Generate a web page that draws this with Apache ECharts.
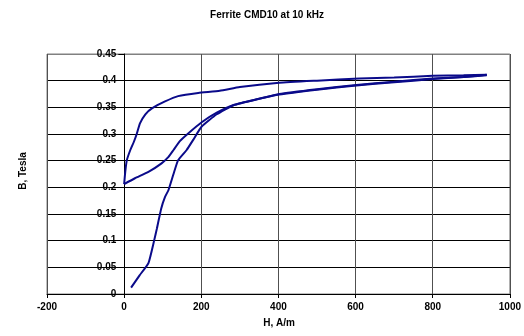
<!DOCTYPE html>
<html>
<head>
<meta charset="utf-8">
<script src="https://cdn.jsdelivr.net/npm/echarts@6/dist/echarts.min.js"></script>
<style>
  html, body { margin: 0; padding: 0; background: #fff; }
  #chart { width: 524px; height: 336px; }
</style>
</head>
<body>
<div id="chart"></div>
<script>
// B-H loop of a ferrite core (CMD10) measured at 10 kHz
// Each branch is a list of [H (A/m), B (T)] pairs.

// first magnetisation from the demagnetised state
const initialCurve = [
  [18, 0.012], [40, 0.035], [63, 0.058], [78, 0.101], [85, 0.123],
  [96, 0.160], [106, 0.182], [115, 0.195], [128, 0.225], [140, 0.251],
  [162, 0.270], [179, 0.289], [201, 0.314], [240, 0.337], [283, 0.354],
  [350, 0.366], [402, 0.374], [500, 0.383], [602, 0.391], [700, 0.397],
  [800, 0.403], [880, 0.407], [940, 0.411]
];

// falling field, back to remanence
const descendingBranch = [
  [940, 0.411], [880, 0.410], [800, 0.409], [700, 0.406], [610, 0.404],
  [500, 0.400], [402, 0.396], [300, 0.388], [248, 0.381], [192, 0.377],
  [140, 0.371], [106, 0.361], [72, 0.348], [55, 0.337], [41, 0.320],
  [33, 0.301], [25, 0.285], [16, 0.270], [7, 0.251], [3, 0.230],
  [0, 0.206]
];

// rising field from remanence up to the tip
const ascendingBranch = [
  [0, 0.206], [28, 0.217], [63, 0.229], [97, 0.245], [115, 0.257],
  [128, 0.270], [145, 0.287], [166, 0.301], [201, 0.322], [240, 0.340],
  [283, 0.354], [350, 0.366], [402, 0.375], [500, 0.384], [602, 0.392],
  [700, 0.398], [800, 0.404], [880, 0.407], [940, 0.410]
];

const xTicks = { min: -200, max: 1000, step: 200 };
const yTicks = { min: 0, max: 0.45, step: 0.05 };

const lineColor = '#0a0a8a';
const fontFamily = '"Liberation Sans", Arial, sans-serif';

// plot box, in pixels
const plot = { left: 47, right: 13, top: 54, bottom: 42, width: 524 - 47 - 13 };
// the B axis sits on H = 0, so shift it right from the plot's left edge
const yAxisShift = plot.width * (0 - xTicks.min) / (xTicks.max - xTicks.min);

function branch(data) {
  return {
    type: 'line',
    data: data,
    showSymbol: false,
    smooth: 0.15,
    lineStyle: { color: lineColor, width: 2 },
    animation: false
  };
}

const chart = echarts.init(document.getElementById('chart'));
chart.setOption({
  backgroundColor: '#ffffff',
  animation: false,
  grid: {
    left: plot.left, right: plot.right, top: plot.top, bottom: plot.bottom,
    show: true, borderColor: '#808080', borderWidth: 1
  },
  xAxis: {
    type: 'value',
    min: xTicks.min, max: xTicks.max, interval: xTicks.step,
    axisLine: { show: true, onZero: false, lineStyle: { color: '#000', width: 1 } },
    axisTick: { show: true, length: 4, lineStyle: { color: '#000' } },
    axisLabel: {
      color: '#000', fontSize: 10, fontWeight: 'bold', fontFamily: fontFamily, margin: 8,
      formatter: function (v) { return String(v); }
    },
    splitLine: { show: true, lineStyle: { color: '#505050', width: 1 } }
  },
  yAxis: {
    type: 'value',
    position: 'left',
    offset: -yAxisShift,
    min: yTicks.min, max: yTicks.max, interval: yTicks.step,
    axisLine: { show: true, onZero: false, lineStyle: { color: '#000', width: 1 } },
    axisTick: { show: true, length: 6, lineStyle: { color: '#000' } },
    axisLabel: { color: '#000', fontSize: 10, fontWeight: 'bold', fontFamily: fontFamily, margin: 8 },
    splitLine: {
      show: true,
      lineStyle: {
        color: ['#000', '#000', '#000', '#000', '#000', '#000', '#000', '#000', '#000', '#808080'],
        width: 1
      }
    }
  },
  graphic: [
    {
      type: 'text', x: 267, y: 15,
      style: { text: 'Ferrite CMD10 at 10 kHz', fill: '#000', font: 'bold 10px ' + fontFamily, textAlign: 'center', textVerticalAlign: 'middle' }
    },
    {
      type: 'text', x: 279, y: 323,
      style: { text: 'H, A/m', fill: '#000', font: 'bold 10px ' + fontFamily, textAlign: 'center', textVerticalAlign: 'middle' }
    },
    {
      type: 'text', x: 23, y: 171, rotation: Math.PI / 2,
      style: { text: 'B, Tesla', fill: '#000', font: 'bold 10px ' + fontFamily, textAlign: 'center', textVerticalAlign: 'middle' }
    }
  ],
  series: [branch(initialCurve), branch(descendingBranch), branch(ascendingBranch)]
});
</script>
</body>
</html>
